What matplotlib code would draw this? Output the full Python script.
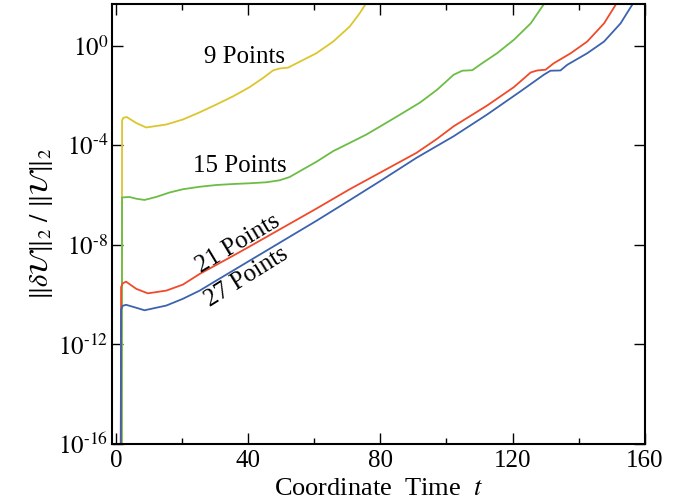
import numpy as np
import matplotlib
matplotlib.use("Agg")
import matplotlib.pyplot as plt
from matplotlib.ticker import NullLocator, MultipleLocator

# values (y given as log10 of the error)
t_9 = [1.7, 1.8, 2.2, 3.2, 6.1, 9.1, 15.2, 20.2, 25.3, 30.3, 35.4, 40.4,
       44.4, 47.5, 49.5, 52.0, 55.1, 60.6, 65.7, 70.7, 73.7, 76.3]
log_9 = [-17, -3.0, -2.9, -2.87, -3.11, -3.29, -3.17, -2.97, -2.68, -2.37,
         -2.04, -1.67, -1.31, -1.0, -0.92, -0.89, -0.68, -0.31, 0.16, 0.76,
         1.29, 1.83]

t_15 = [1.7, 1.8, 4.0, 6.1, 8.6, 12.1, 16.2, 20.2, 25.3, 30.3, 35.4, 40.4,
        45.5, 49.5, 52.5, 56.6, 60.6, 65.7, 70.7, 75.8, 80.8, 86.0, 92.1,
        97.2, 102.2, 104.8, 107.8, 110.8, 115.3, 120.4, 125.5, 130.0]
log_15 = [-17, -6.1, -6.08, -6.15, -6.2, -6.08, -5.9, -5.77, -5.67, -5.6,
          -5.56, -5.53, -5.49, -5.41, -5.28, -4.97, -4.67, -4.24, -3.91,
          -3.57, -3.18, -2.77, -2.28, -1.77, -1.17, -1.01, -0.99, -0.71,
          -0.31, 0.23, 0.89, 1.76]

t_21 = [1.4, 1.5, 2.0, 3.0, 6.1, 9.6, 15.2, 20.2, 25.3, 30.3, 35.4, 40.4,
        50.5, 60.6, 70.7, 80.8, 90.9, 97.0, 102.2, 112.3, 120.4, 125.5,
        127.5, 130.0, 132.5, 137.6, 142.6, 147.7, 151.8, 153.0]
log_21 = [-17, -9.7, -9.55, -9.48, -9.77, -9.95, -9.84, -9.6, -9.17, -8.81,
          -8.44, -8.07, -7.31, -6.55, -5.77, -5.04, -4.31, -3.76, -3.24,
          -2.41, -1.67, -1.08, -1.0, -0.97, -0.71, -0.31, 0.16, 0.89, 1.76,
          2.0]

t_27 = [1.4, 1.5, 2.0, 3.0, 5.6, 8.6, 15.2, 20.2, 25.3, 30.3, 40.4, 50.5,
        60.6, 70.7, 80.8, 90.9, 102.2, 112.3, 122.4, 129.5, 131.5, 134.5,
        136.6, 142.6, 147.7, 152.7, 156.8, 158.0]
log_27 = [-17, -10.6, -10.45, -10.41, -10.51, -10.63, -10.44, -10.17, -9.84,
          -9.44, -8.64, -7.84, -7.04, -6.21, -5.37, -4.51, -3.64, -2.77,
          -1.84, -1.17, -1.01, -1.0, -0.77, -0.31, 0.16, 0.89, 1.76, 2.0]

series = [
    (t_9, log_9, "#dcc62c"),
    (t_15, log_15, "#6cbd45"),
    (t_21, log_21, "#f04a2a"),
    (t_27, log_27, "#3b63ae"),
]

x_ticks = [0, 40, 80, 120, 160]
y_ticks = [1e-16, 1e-12, 1e-8, 1e-4, 1e0]
y_tick_labels = [r"$10^{\text{-}16}$", r"$10^{\text{-}12}$", r"$10^{\text{-}8}$",
                 r"$10^{\text{-}4}$", r"$10^{0}$"]

plt.rcParams["font.family"] = ["Liberation Serif", "DejaVu Serif"]
plt.rcParams["mathtext.fontset"] = "stix"

fig = plt.figure(figsize=(6.88, 5.03), dpi=100)
ax = fig.add_axes([0.1635, 0.1173, 0.7735, 0.8753])

for t, lg, color in series:
    ax.plot(t, 10.0 ** np.array(lg), color=color, lw=1.3,
            solid_joinstyle="round")

ax.set_yscale("log")
ax.set_xlim(-1.1, 160)
ax.set_ylim(1e-16, 10 ** 1.68)

ax.set_xticks(x_ticks)
ax.xaxis.set_minor_locator(MultipleLocator(20))
ax.set_yticks(y_ticks)
ax.set_yticklabels(y_tick_labels)
ax.yaxis.set_minor_locator(NullLocator())

ax.tick_params(which="both", direction="in", top=True, right=True,
               labelsize=18, width=1.0)
ax.tick_params(which="major", length=8, pad=4)
ax.tick_params(which="minor", length=4)
ax.tick_params(axis="y", pad=3)
for sp in ax.spines.values():
    sp.set_linewidth(1.5)

ax.set_xlabel(r"Coordinate  Time  $t$", fontsize=19, labelpad=5)
ax.set_ylabel(r"$\|\delta\mathcal{U}\|_2\ /\ \|\mathcal{U}\|_2$", fontsize=19, labelpad=2)

# curve labels
ax.text(38.9, 10 ** -0.44, "9 Points", fontsize=18, ha="center", va="center")
ax.text(37.4, 10 ** -4.84, "15 Points", fontsize=18, ha="center", va="center")
ax.text(36.9, 10 ** -7.97, "21 Points", fontsize=18, ha="center", va="center",
        rotation=31, rotation_mode="anchor")
ax.text(39.4, 10 ** -9.31, "27 Points", fontsize=18, ha="center", va="center",
        rotation=32, rotation_mode="anchor")

fig.savefig("out.png", dpi=100)
